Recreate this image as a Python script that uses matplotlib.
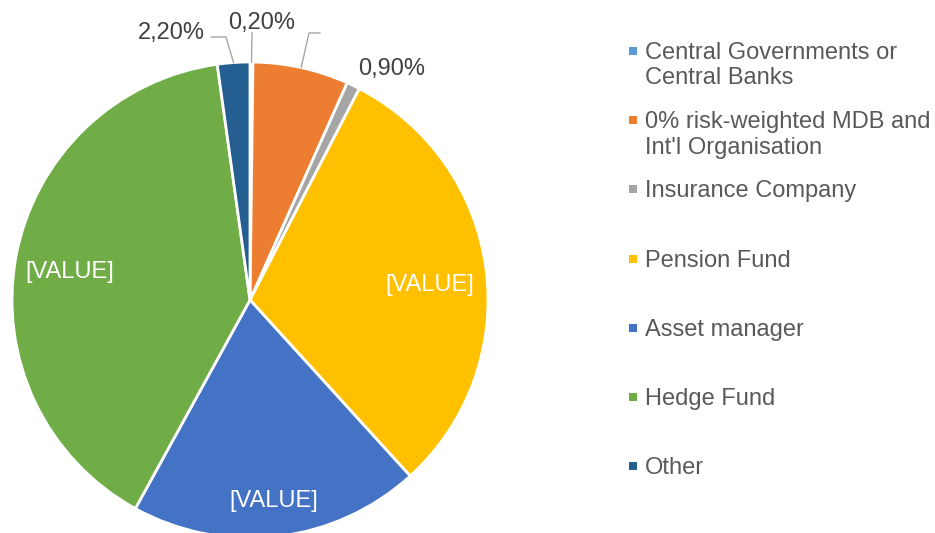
import numpy as np
import matplotlib.pyplot as plt

categories = ["Central Governments or\nCentral Banks",
              "0% risk-weighted MDB and\nInt'l Organisation",
              "Insurance Company", "Pension Fund", "Asset manager",
              "Hedge Fund", "Other"]
values = [0.2, 6.5, 0.9, 30.65, 19.75, 39.8, 2.2]
labels = ["0,20%", "", "0,90%", "[VALUE]", "[VALUE]", "[VALUE]", "2,20%"]
colors = ["#5B9BD5", "#ED7D31", "#A5A5A5", "#FFC000", "#4472C4",
          "#70AD47", "#255E91"]

plt.rcParams['font.family'] = ['Liberation Sans', 'DejaVu Sans']

W, H = 935, 533
fig = plt.figure(figsize=(W / 100, H / 100), dpi=100)
ax = fig.add_axes([0, 0, 1, 1])

cx, cy, R = 250, H - 300, 238
wedges, _ = ax.pie(values, colors=colors, startangle=90, counterclock=False,
                   center=(cx, cy), radius=R, frame=True,
                   wedgeprops=dict(edgecolor='white', linewidth=2))
ax.set_xlim(0, W)
ax.set_ylim(0, H)
ax.set_aspect('equal')
ax.axis('off')


def mid_point(w, f):
    a = np.deg2rad((w.theta1 + w.theta2) / 2)
    return cx + f * R * np.cos(a), cy + f * R * np.sin(a)


# labels inside the big slices: (radius fraction, pixel nudge down)
inner = {3: (0.76, 9), 4: (0.84, 2), 5: (0.77, 5)}
for i, (f, dy) in inner.items():
    x, y = mid_point(wedges[i], f)
    ax.text(x, y - dy, labels[i], color='white', fontsize=17,
            ha='center', va='center')

# outside labels with leader lines
txt_col = '#404040'
line_col = '#A6A6A6'
ax.text(262, H - 23, labels[0], color=txt_col, fontsize=17,
        ha='center', va='center')
x0, y0 = mid_point(wedges[0], 1.0)
ax.plot([x0, 252], [y0, H - 33], color=line_col, lw=1)

x1, y1 = mid_point(wedges[1], 1.0)
ax.plot([x1, 309, 320], [y1, H - 33, H - 33], color=line_col, lw=1)

ax.text(392, H - 69, labels[2], color=txt_col, fontsize=17,
        ha='center', va='center')

ax.text(171, H - 33, labels[6], color=txt_col, fontsize=17,
        ha='center', va='center')
x6, y6 = mid_point(wedges[6], 1.0)
ax.plot([x6, 226, 211], [y6, H - 37, H - 37], color=line_col, lw=1)

# legend
for i, (cat, c) in enumerate(zip(categories, colors)):
    y = H - (51 + 69.2 * i)
    ax.scatter([633], [y], marker='s', s=36, color=c, linewidths=0)
    ax.text(645, y + 9, cat, color='#595959', fontsize=17,
            ha='left', va='top', linespacing=1.2)

fig.savefig("out.png", dpi=100)
